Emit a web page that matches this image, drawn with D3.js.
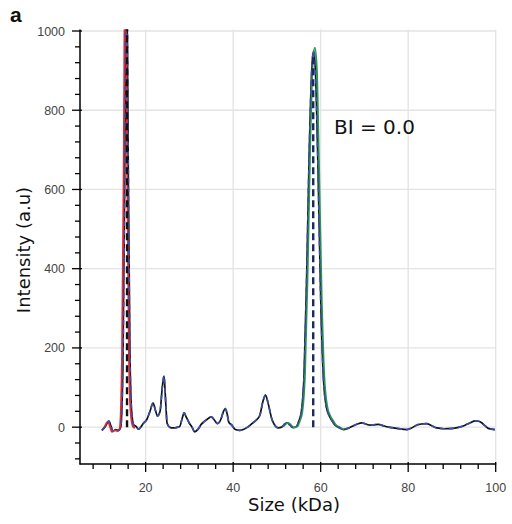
<!DOCTYPE html>
<html><head><meta charset="utf-8">
<script src="https://cdn.jsdelivr.net/npm/d3@7/dist/d3.min.js"></script>
<style>body{margin:0;background:#fff}svg{display:block}</style>
</head><body>
<svg id="c" width="512" height="524"></svg>
<script>
// Measured trace (black solid + blue dashed overlay)
const traceSize = [10.0,10.8,11.6,12.1,12.5,13.2,13.8,14.3,14.8,15.2,15.6,16.0,16.4,16.8,17.3,17.8,18.4,19.0,19.5,20.3,21.0,21.7,22.3,22.7,23.3,23.8,24.2,24.6,24.9,25.5,26.2,27.0,27.8,28.3,28.8,29.3,30.0,30.6,31.2,32.0,32.7,33.5,34.3,35.0,35.7,36.4,37.2,37.8,38.2,38.6,39.0,39.7,40.5,41.5,42.3,43.3,44.3,45.3,46.1,46.8,47.4,48.0,48.8,49.5,50.3,51.2,51.8,52.4,53.0,53.7,54.5,55.0,55.6,56.2,56.8,57.4,58.0,58.4,58.8,59.4,60.0,60.6,61.3,62.0,62.5,63.3,64.4,65.2,66.2,67.4,68.4,69.4,70.3,71.3,72.2,73.2,74.2,75.1,76.3,77.4,78.5,79.7,80.8,81.9,83.0,84.2,85.3,86.5,88.3,90.3,91.7,93.0,94.2,95.3,96.1,96.8,97.6,98.3,99.8];
const traceValue = [-8,2,15,2,-10,-6,-8,0,150,600,1250,700,200,40,5,2,-5,2,10,20,40,61,40,28,40,100,129,60,10,0,-2,-1,2,20,36,25,10,0,-12,-5,7,15,22,26,18,9,20,40,47,35,13,5,-6,-8,-6,0,9,18,30,65,81,60,22,5,-2,1,8,11,5,-1,2,15,40,130,380,700,910,950,900,650,330,130,51,28,18,5,-2,-6,-3,3,8,11,8,5,6,7,4,1,-1,-3,-5,-6,-2,5,8,9,4,-2,-4,-3,0,5,11,16,15,11,3,-3,-6];
// Fitted peak 1 (red)
const redSize = [10.8,11.6,12.1,12.5,13.2,13.8,14.3,14.8,15.2,15.55,16.0,16.4,16.8,17.3,17.8];
const redValue = [0,14,0,-12,-8,-10,-2,170,650,1250,650,180,35,2,-2];
// Fitted peak 2 (green)
const greenSize = [51.2,51.8,52.4,53.0,53.7,54.5,55.0,55.6,56.2,56.8,57.4,58.0,58.45,58.9,59.4,60.0,60.6,61.3,62.0,62.5,63.3,64.4,65.2];
const greenValue = [1,8,11,5,-1,2,15,40,135,390,715,925,958,905,660,335,130,51,28,18,5,-2,-6];
// Peak markers
const markerSize = [15.75, 58.3];
const markerValue = [1100, 935];
const markerColor = ["#111111", "#1c2a5e"];
// Axes
const xMajor = [20,40,60,80,100];
const xMinor = [8,12,16,24,28,32,36,44,48,52,56,64,68,72,76,84,88,92,96];
const yMajor = [0,200,400,600,800,1000];
const yMinor = [-80,-40,40,80,120,160,240,280,320,360,440,480,520,560,640,680,720,760,840,880,920,960];
const annotation = "BI = 0.0";

const svg = d3.select("#c");
const x = d3.scaleLinear().domain([5,100]).range([80,495.7]);
const y = d3.scaleLinear().domain([-93,1000]).range([464,31]);
const L = 80, R = 495.7, T = 29.5, B = 464;

svg.append("defs").append("clipPath").attr("id","clip")
  .append("rect").attr("x",L).attr("y",T).attr("width",R-L+1).attr("height",B-T);

// grid
const g = svg.append("g");
g.selectAll(".gx").data(xMajor).join("line")
  .attr("x1",d=>x(d)).attr("x2",d=>x(d)).attr("y1",T).attr("y2",B)
  .attr("stroke","#e3e3e3").attr("stroke-width",1.3);
g.selectAll(".gy").data(yMajor).join("line")
  .attr("x1",L).attr("x2",R).attr("y1",d=>y(d)).attr("y2",d=>y(d))
  .attr("stroke","#e3e3e3").attr("stroke-width",1.3);

const plot = svg.append("g").attr("clip-path","url(#clip)");
const line = d3.line().x(d=>x(d[0])).y(d=>y(d[1])).curve(d3.curveMonotoneX);
const zip = (a,b)=>a.map((v,i)=>[v,b[i]]);

plot.append("path").attr("d",line(zip(traceSize,traceValue)))
  .attr("fill","none").attr("stroke","#111").attr("stroke-width",1.7);
plot.append("path").attr("d",line(zip(redSize,redValue)))
  .attr("fill","none").attr("stroke","#e8262b").attr("stroke-width",1.9)
  .attr("transform","translate(-0.9,0)");
plot.append("path").attr("d",line(zip(greenSize,greenValue)))
  .attr("fill","none").attr("stroke","#2a9950").attr("stroke-width",1.8)
  .attr("transform","translate(1,0)");
plot.append("path").attr("d",line(zip(traceSize,traceValue)))
  .attr("fill","none").attr("stroke","#3a50a8").attr("stroke-width",1.7)
  .attr("stroke-dasharray","5,4");
plot.selectAll(".mk").data(markerSize).join("line")
  .attr("x1",d=>x(d)).attr("x2",d=>x(d))
  .attr("y1",y(0)).attr("y2",(d,i)=>y(markerValue[i]))
  .attr("stroke",(d,i)=>markerColor[i]).attr("stroke-width",2.4)
  .attr("stroke-dasharray","7,4");

// axes
const ax = svg.append("g");
ax.append("line").attr("x1",L).attr("x2",L).attr("y1",T).attr("y2",B+0.5).attr("stroke","#000").attr("stroke-width",1.5);
ax.append("line").attr("x1",L-0.5).attr("x2",R+0.5).attr("y1",B).attr("y2",B).attr("stroke","#000").attr("stroke-width",1.5);
ax.selectAll(".xt").data(xMajor).join("line")
  .attr("x1",d=>x(d)).attr("x2",d=>x(d)).attr("y1",B-2).attr("y2",B+8).attr("stroke","#000").attr("stroke-width",1.3);
ax.selectAll(".xm").data(xMinor).join("line")
  .attr("x1",d=>x(d)).attr("x2",d=>x(d)).attr("y1",B).attr("y2",B+5).attr("stroke","#000").attr("stroke-width",1.3);
ax.selectAll(".yt").data(yMajor).join("line")
  .attr("y1",d=>y(d)).attr("y2",d=>y(d)).attr("x1",L-8).attr("x2",L+2).attr("stroke","#000").attr("stroke-width",1.3);
ax.selectAll(".ym").data(yMinor).join("line")
  .attr("y1",d=>y(d)).attr("y2",d=>y(d)).attr("x1",L-5).attr("x2",L).attr("stroke","#000").attr("stroke-width",1.3);
ax.selectAll(".xl").data(xMajor).join("text")
  .attr("x",d=>x(d)).attr("y",492).attr("text-anchor","middle")
  .attr("font-family","Liberation Sans, Arial, sans-serif").attr("font-size",12.5).attr("fill","#444")
  .text(d=>d);
ax.selectAll(".yl").data(yMajor).join("text")
  .attr("x",65).attr("y",d=>y(d)+4.5).attr("text-anchor","end")
  .attr("font-family","Liberation Sans, Arial, sans-serif").attr("font-size",12.5).attr("fill","#444")
  .text(d=>d);

svg.append("text").attr("x",294).attr("y",511).attr("text-anchor","middle")
  .attr("font-family","DejaVu Sans, sans-serif").attr("font-size",18).attr("fill","#111").text("Size (kDa)");
svg.append("text").attr("transform","translate(30,250) rotate(-90)").attr("text-anchor","middle")
  .attr("font-family","DejaVu Sans, sans-serif").attr("font-size",18).attr("fill","#111").text("Intensity (a.u)");
svg.append("text").attr("x",334).attr("y",134)
  .attr("font-family","DejaVu Sans, sans-serif").attr("font-size",20).attr("fill","#111").text(annotation);
svg.append("text").attr("x",10).attr("y",22)
  .attr("font-family","Liberation Sans, Arial, sans-serif").attr("font-weight","bold").attr("font-size",21).attr("fill","#111").text("a");
</script>
</body></html>
